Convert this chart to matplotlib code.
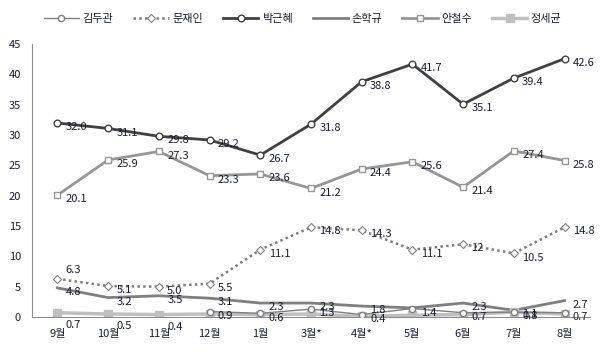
import matplotlib
matplotlib.use("Agg")
import matplotlib.pyplot as plt
import numpy as np

plt.rcParams['font.family'] = ['Noto Sans CJK KR', 'DejaVu Sans']

months = ['9월', '10월', '11월', '12월', '1월', '3월*', '4월*', '5월', '6월', '7월', '8월']

kim_dk = [np.nan, np.nan, np.nan, 0.9, 0.6, 1.3, 0.4, 1.4, 0.7, 0.8, 0.7]
moon = [6.3, 5.1, 5.0, 5.5, 11.1, 14.8, 14.3, 11.1, 12, 10.5, 14.8]
park = [32.0, 31.1, 29.8, 29.2, 26.7, 31.8, 38.8, 41.7, 35.1, 39.4, 42.6]
sohn = [4.8, 3.2, 3.5, 3.1, 2.3, 2.3, 1.8, 1.5, 2.3, 1.1, 2.7]
ahn = [20.1, 25.9, 27.3, 23.3, 23.6, 21.2, 24.4, 25.6, 21.4, 27.4, 25.8]
chung = [0.7, 0.5, 0.4, 0.5, 0.4, 0.5, 0.1, 0.3, 0.4, 0.8, 0.5]

# labels shown in the chart (others hidden by overlap)
moon_lbl = ['6.3', '5.1', '5.0', '5.5', '11.1', '14.8', '14.3', '11.1', '12', '10.5', '14.8']
park_lbl = ['%.1f' % v for v in park]
ahn_lbl = ['%.1f' % v for v in ahn]
sohn_lbl = ['4.8', '3.2', '3.5', '3.1', '2.3', '2.3', '1.8', '', '2.3', '1.1', '2.7']
kim_lbl = ['', '', '', '0.9', '0.6', '1.3', '0.4', '1.4', '0.7', '0.8', '0.7']
chung_lbl = ['0.7', '0.5', '0.4', '', '', '', '', '', '', '', '']

txt = '#1c1c30'
x = np.arange(len(months))

fig = plt.figure(figsize=(6.05, 3.59), dpi=100)
ax = fig.add_axes([0.053, 0.117, 0.922, 0.76])

ax.plot(x, kim_dk, color='#7f7f7f', lw=1, marker='o', ms=4.5,
        mfc='white', mec='#7f7f7f', label='김두관', zorder=3)
ax.plot(x, moon, color='#7f7f7f', lw=1.8, ls=(0, (1, 1.3)), marker='D', ms=3.8,
        mfc='white', mec='#7f7f7f', mew=0.8, label='문재인', zorder=3)
ax.plot(x, park, color='#404040', lw=2, marker='o', ms=4.8,
        mfc='white', mec='#404040', label='박근혜', zorder=4)
ax.plot(x, sohn, color='#7f7f7f', lw=2, label='손학규', zorder=2)
ax.plot(x, ahn, color='#969696', lw=2, marker='s', ms=5,
        mfc='white', mec='#969696', label='안철수', zorder=3)
ax.plot(x, chung, color='#bfbfbf', lw=2.5, marker='s', ms=6,
        mfc='#bfbfbf', mec='#bfbfbf', label='정세균', zorder=2)

def put_labels(vals, lbls, dy=-3, first_dy=None):
    for i, (xi, v, s) in enumerate(zip(x, vals, lbls)):
        if s == '' or np.isnan(v):
            continue
        d = first_dy if (i == 0 and first_dy is not None) else dy
        ax.annotate(s, xy=(xi, v), xytext=(6, d), textcoords='offset points',
                    ha='left', va='center', fontsize=8, color=txt, zorder=6)

put_labels(park, park_lbl)
put_labels(ahn, ahn_lbl)
put_labels(moon, moon_lbl, first_dy=6)
put_labels(sohn, sohn_lbl)
put_labels(kim_dk, kim_lbl)
# chung labels sit below the markers
for xi, v, s in zip(x, chung, chung_lbl):
    if s:
        ax.annotate(s, xy=(xi, v), xytext=(6, -9), textcoords='offset points',
                    ha='left', va='center', fontsize=8, color=txt, zorder=6)

ax.set_xlim(-0.5, len(months) - 0.5)
ax.set_ylim(0, 45)
ax.set_yticks(range(0, 46, 5))
ax.set_xticks(x)
ax.set_xticklabels(months)
ax.tick_params(axis='both', length=0, labelsize=8, colors=txt)
ax.tick_params(axis='x', pad=9)
ax.tick_params(axis='y', pad=8)
for s in ['top', 'right']:
    ax.spines[s].set_visible(False)
ax.spines['left'].set_color('#8c8c8c')
ax.spines['bottom'].set_color('#8c8c8c')
ax.spines['left'].set_linewidth(0.8)
ax.spines['bottom'].set_linewidth(0.8)

fig.legend(loc='upper center', bbox_to_anchor=(0.5, 0.99), ncol=6, frameon=False,
           fontsize=8, handlelength=3.2, columnspacing=1.8, handletextpad=0.3,
           labelcolor=txt)

fig.savefig('out.png', dpi=100)
